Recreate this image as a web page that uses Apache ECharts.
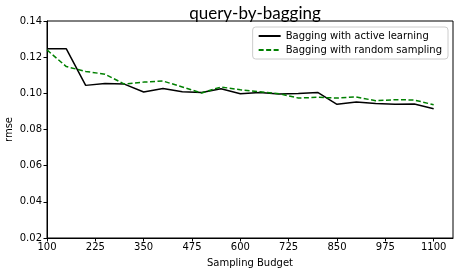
<!DOCTYPE html>
<html><head><meta charset="utf-8">
<script src="https://cdn.jsdelivr.net/npm/echarts@6/dist/echarts.min.js"></script>
<style>html,body{margin:0;padding:0;background:#fff}#c{width:460px;height:275px}</style>
</head><body><div id="c"></div>
<script>
var budgets = [100,150,200,250,300,350,400,450,500,550,600,650,700,750,800,850,900,950,1000,1050,1100];
var activeLearning = [0.1246,0.1246,0.1044,0.1055,0.1051,0.1007,0.1027,0.1009,0.1005,0.1025,0.0998,0.1005,0.0996,0.0999,0.1005,0.0939,0.0952,0.0944,0.0939,0.0941,0.0915];
var randomSampling = [0.1240,0.1148,0.1121,0.1106,0.1051,0.1062,0.1068,0.1035,0.1002,0.1035,0.1020,0.1009,0.0998,0.0974,0.0978,0.0974,0.0980,0.0959,0.0965,0.0963,0.0937];
var xTicks = [100,225,350,475,600,725,850,975,1100];
var yTicks = [0.02,0.04,0.06,0.08,0.10,0.12,0.14];
var seriesNames = ['Bagging with active learning','Bagging with random sampling'];

function pairs(xs, ys){ return xs.map(function(x,i){return [x, ys[i]];}); }
var chart = echarts.init(document.getElementById('c'), null, {renderer:'canvas'});
var font = 'DejaVu Sans';
chart.setOption({
  animation:false,
  backgroundColor:'#fff',
  title:{text:'query-by-bagging', left:250, top:0, textAlign:'center',
    textStyle:{fontFamily:'Lato', fontSize:17, fontWeight:'normal', color:'#000'}},
  grid:{left:47, right:7, top:21, bottom:37, show:true, borderColor:'#000', borderWidth:1,
    backgroundColor:'transparent', containLabel:false, outerBoundsMode:'none'},
  legend:{
    orient:'vertical', right:12, top:27, itemWidth:22, itemHeight:10, itemGap:4,
    padding:[4,6,4,5], borderColor:'#ccc', borderWidth:1, borderRadius:3,
    backgroundColor:'#fff',
    itemStyle:{opacity:0},
    textStyle:{fontFamily:font, fontSize:10, color:'#000'},
    data:seriesNames
  },
  xAxis:{type:'value', min:xTicks[0], max:1150, interval:xTicks[1]-xTicks[0],
    name:'Sampling Budget', nameLocation:'middle', nameGap:20, nameMoveOverlap:false,
    nameTextStyle:{fontFamily:font, fontSize:10, color:'#000'},
    axisLine:{show:true, lineStyle:{color:'#000'}},
    axisTick:{show:true, length:3.5, lineStyle:{color:'#000'}, customValues:xTicks},
    axisLabel:{fontFamily:font, fontSize:10, color:'#000', margin:4, customValues:xTicks,
      formatter:function(v){ return String(v); }},
    splitLine:{show:false}},
  yAxis:{type:'value', min:yTicks[0], max:yTicks[yTicks.length-1], interval:0.02,
    name:'rmse', nameLocation:'middle', nameGap:33, nameMoveOverlap:false,
    nameTextStyle:{fontFamily:font, fontSize:10, color:'#000'},
    axisLine:{show:true, lineStyle:{color:'#000'}},
    axisTick:{show:true, length:3.5, lineStyle:{color:'#000'}},
    axisLabel:{fontFamily:font, fontSize:10, color:'#000', margin:5,
      formatter:function(v){ return v.toFixed(2); }},
    splitLine:{show:false}},
  series:[
    {name:seriesNames[0], type:'line', data:pairs(budgets, activeLearning), symbol:'none',
      lineStyle:{color:'#000', width:1.5}, itemStyle:{color:'#000'}},
    {name:seriesNames[1], type:'line', data:pairs(budgets, randomSampling), symbol:'none',
      lineStyle:{color:'#008000', width:1.5, type:[5,2.5]}, itemStyle:{color:'#008000'}}
  ]
});
</script></body></html>
